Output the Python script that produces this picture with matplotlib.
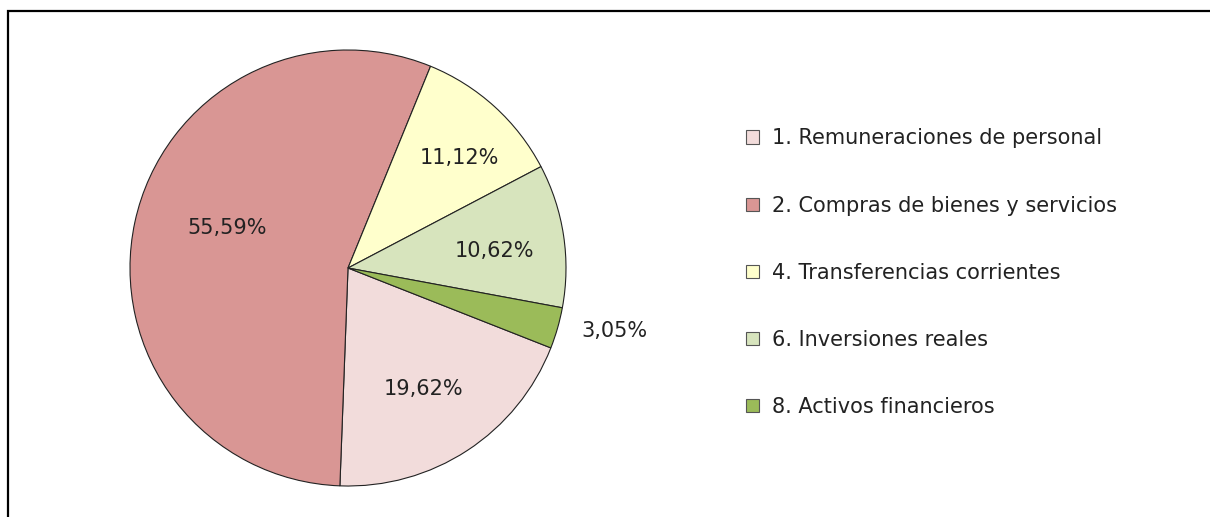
import matplotlib
matplotlib.use("Agg")
import math
import matplotlib.pyplot as plt
from matplotlib.patches import Patch, Rectangle

# Data
categories = ["1. Remuneraciones de personal",
              "2. Compras de bienes y servicios",
              "4. Transferencias corrientes",
              "6. Inversiones reales",
              "8. Activos financieros"]
shares = [19.62, 55.59, 11.12, 10.62, 3.05]
colors = ["#F2DCDB", "#D99694", "#FFFFCC", "#D7E4BD", "#9BBB59"]
# label placement (distance from centre in radii, angle in degrees)
label_r = [0.654, 0.584, 0.718, 0.674, 1.255]
label_ang = [-57.8, 161.9, 44.4, 6.6, -13.4]

plt.rcParams['font.family'] = ['DejaVu Sans']
FS = 15

W, H = 1210, 517
fig = plt.figure(figsize=(W / 100, H / 100), dpi=100)

# outer frame (runs off the right and bottom edges)
fig.patches.append(Rectangle((8 / W, -0.2), 1.2, 0.2 + (H - 11) / H,
                             transform=fig.transFigure, fill=False,
                             edgecolor="black", linewidth=1.6))

cx, cy, r = 348, 268, 218
ax = fig.add_axes([(cx - r) / W, (H - cy - r) / H, 2 * r / W, 2 * r / H])

wedges, _ = ax.pie(shares, colors=colors, startangle=-21.5, counterclock=False,
                   radius=1, wedgeprops=dict(edgecolor="#222222", linewidth=0.8))
ax.set_xlim(-1, 1)
ax.set_ylim(-1, 1)

for v, d, a in zip(shares, label_r, label_ang):
    ang = math.radians(a)
    ax.text(d * math.cos(ang), d * math.sin(ang),
            f"{v:.2f}".replace(".", ",") + "%",
            ha="center", va="center", fontsize=FS, color="#222222")

handles = [Patch(facecolor=c, edgecolor="#555555", linewidth=0.8) for c in colors]
fig.legend(handles, categories, loc="upper left",
           bbox_to_anchor=(736 / W, 1 - 118 / H), frameon=False,
           prop=dict(size=FS), handlelength=0.6, handleheight=0.6,
           handletextpad=0.65, labelspacing=2.26, borderpad=0,
           labelcolor="#222222")

fig.savefig("out.png", dpi=100)
